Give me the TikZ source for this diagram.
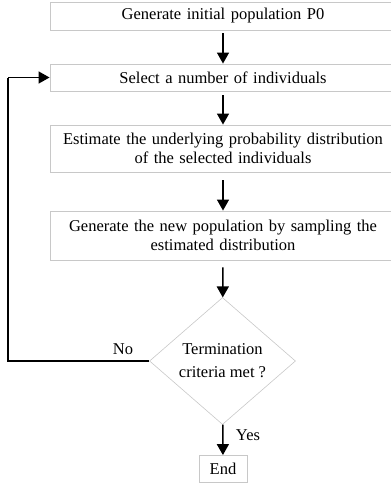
\documentclass[tikz,border=0pt]{standalone}
\usepackage{fontspec}
\setmainfont{Liberation Serif}
\usetikzlibrary{shapes.geometric,arrows.meta}
\definecolor{boxgray}{RGB}{200,200,200}
\begin{document}
\begin{tikzpicture}[x=1pt,y=-1pt,
  font=\fontsize{16.5}{19}\selectfont,
  procbox/.style={draw=boxgray,line width=0.9pt,minimum width=346pt,inner sep=0pt,align=center,text width=344pt},
  decide/.style={diamond,draw=boxgray,line width=0.6pt,minimum width=146pt,minimum height=127pt,inner sep=0pt,align=center,font=\fontsize{16.5}{23}\selectfont},
  flow/.style={line width=1.5pt,-{Triangle[length=11pt,width=12pt]}},
  lbl/.style={inner sep=0pt}]
\useasboundingbox (0,0) rectangle (391,483);
\node[procbox,minimum height=28pt] (b1) at (223,16) {Generate initial population P0};
\node[procbox,minimum height=27pt] (b2) at (223,77.5) {Select a number of individuals};
\node[procbox,minimum height=47pt] (b3) at (223,148.5) {Estimate the underlying probability distribution\\of the selected individuals};
\node[procbox,minimum height=49pt] (b4) at (223,235.5) {Generate the new population by sampling the\\estimated distribution};
\node[decide] (d) at (222.5,361) {Termination\\criteria met ?};
\node[draw=boxgray,line width=0.9pt,minimum width=48pt,minimum height=27pt,inner sep=0pt] (e) at (223,469) {End};
\coordinate (c1) at (8,361);
\coordinate (c2) at (8,77.5);
\draw[flow,shorten <=3pt] (b1) -- (b2);
\draw[flow,shorten <=4pt] (b2) -- (b3);
\draw[flow,shorten <=8pt] (b3) -- (b4);
\draw[flow,shorten <=7pt] (b4) -- (d);
\draw[flow] (d) -- (e);
\draw[line width=1.5pt] (d.west) -- (c1) -- (c2);
\draw[flow] (c2) -- (b2.west);
\node[lbl] (no) at (123,349) {No};
\node[lbl] (yes) at (248,435) {Yes};
\end{tikzpicture}
\end{document}
